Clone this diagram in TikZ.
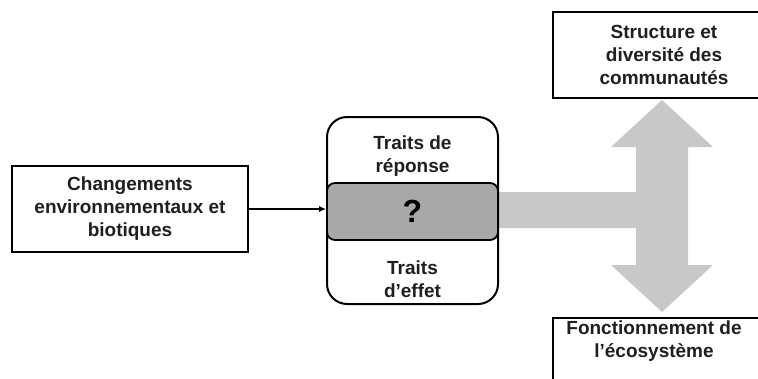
\documentclass[tikz,border=0pt]{standalone}
\usepackage{fontspec}
\setmainfont{Liberation Sans}
\usetikzlibrary{arrows.meta}

\definecolor{bandgray}{RGB}{168,168,168}
\definecolor{arrowgray}{RGB}{200,200,200}

\tikzset{
	txt/.style={align=center, font=\bfseries\fontsize{19}{23}\selectfont, text=black!88},
	box/.style={txt, draw, line width=2pt, fill=white},
	band/.style={draw, line width=1.8pt, fill=bandgray, rounded corners=8pt,
		font=\bfseries\fontsize{32}{34}\selectfont}
}

\begin{document}
\begin{tikzpicture}[x=1pt,y=-1pt]
	\useasboundingbox (0,0) rectangle (758,378);

	%double arrow
\fill[arrowgray] (498,192) -- (636,192) -- (636,147) -- (611,147) -- (662,100)
	-- (713,147) -- (688,147) -- (688,265) -- (713,265) -- (662,312)
	-- (611,265) -- (636,265) -- (636,228) -- (498,228) -- cycle;

	%Changements box
\node[box, minimum width=236pt, minimum height=86pt] (change) at (130,209)
	{Changements\\environnementaux et\\biotiques};

	%traits box
\node[draw, line width=2pt, rounded corners=20pt, fill=white,
	minimum width=171pt, minimum height=187pt] (traits) at (412.5,210.5) {};
\node[band, minimum width=171pt, minimum height=57pt, inner sep=0pt] (band) at (412.5,211.5) {?};
\node[txt] (rep) at (412.5,156) {Traits de\\réponse};
\node[txt] (eff) at (412.5,279) {Traits\\d’effet};

\draw[-{Latex[length=7pt,width=6pt]}, line width=1.2pt] (change.east) -- (change.east -| band.west);

	%Structure box
\node[box, minimum width=222pt, minimum height=86pt] (struct) at (664,55)
	{Structure et\\diversité des\\communautés};

	%Fonctionnement box
\draw[line width=2pt] (553,318) rectangle (790,400);
\node[txt] (fonc) at (654,341) {Fonctionnement de\\l’écosystème};

\end{tikzpicture}
\end{document}
